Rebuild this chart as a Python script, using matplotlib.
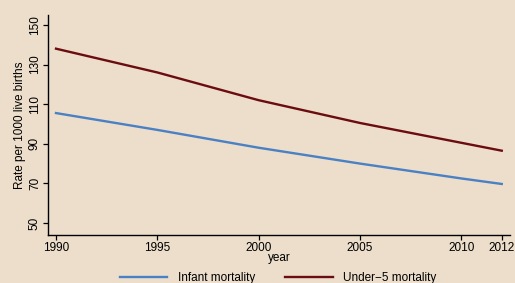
import matplotlib
matplotlib.use("Agg")
import matplotlib.pyplot as plt

# Mortality rates per 1000 live births
years = [1990, 1995, 2000, 2005, 2010, 2012]
infant = [105.5, 97.0, 88.0, 80.0, 72.5, 69.7]
under5 = [138.0, 126.0, 112.0, 100.5, 90.5, 86.5]
xticks = [1990, 1995, 2000, 2005, 2010, 2012]
yticks = [50, 70, 90, 110, 130, 150]

bg = "#ecdecb"
plt.rcParams["font.family"] = ["Liberation Sans", "DejaVu Sans"]

fig = plt.figure(figsize=(5.15, 2.83), dpi=100, facecolor=bg)
ax = fig.add_axes([0.093, 0.170, 0.897, 0.777])
ax.set_facecolor(bg)

ax.plot(years, infant, color="#4a80c4", lw=1.7, label="Infant mortality")
ax.plot(years, under5, color="#6a0c10", lw=1.7, label="Under\u22125 mortality")

ax.set_xlim(1989.6, 2012.4)
ax.set_ylim(44, 155)
ax.set_xticks(xticks)
ax.set_yticks(yticks)
ax.set_yticklabels([str(v) for v in yticks], rotation=90, va="center")
ax.tick_params(labelsize=8.5, length=3.5, width=0.9, pad=1.5)

for s in ["top", "right"]:
    ax.spines[s].set_visible(False)
ax.spines["left"].set_linewidth(1.0)
ax.spines["bottom"].set_linewidth(1.0)

ax.set_xlabel("year", fontsize=8.5, labelpad=-1)
ax.set_ylabel("Rate per 1000 live births", fontsize=8.5, labelpad=2)

fig.legend(loc="lower center", bbox_to_anchor=(0.54, -0.03), ncol=2,
           frameon=False, fontsize=8.5, handlelength=4.0, columnspacing=2.6,
           handletextpad=0.9, borderaxespad=0.2)

fig.savefig("out.png", dpi=100, facecolor=bg)
